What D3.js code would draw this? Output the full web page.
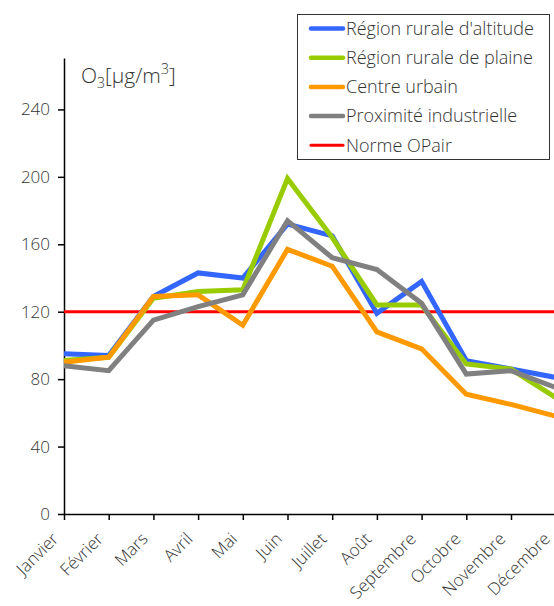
<!DOCTYPE html>
<html>
<head>
<meta charset="utf-8">
<script src="https://cdn.jsdelivr.net/npm/d3@7"></script>
<style>
  body { margin: 0; background: #fff; }
  svg { display: block; font-family: "Open Sans", sans-serif; }
  .axis text { font-size: 17px; fill: #333; font-weight: 300; }
  .axis path, .axis line { stroke: #000; stroke-width: 1.5px; }
</style>
</head>
<body>
<div id="chart"></div>
<script>
const months = ['Janvier', 'Février', 'Mars', 'Avril', 'Mai', 'Juin', 'Juillet', 'Août', 'Septembre', 'Octobre', 'Novembre', 'Décembre'];
const yTicks = [0, 40, 80, 120, 160, 200, 240];

const altitude = [95, 94, 129, 143, 140, 172, 165, 119, 138, 91, 86, 81];
const plaine = [91, 93, 128, 132, 133, 199, 164, 124, 124, 89, 86, 69];
const urbain = [90, 93, 129, 130, 112, 157, 147, 108, 98, 71, 65, 58];
const industriel = [88, 85, 115, 123, 130, 174, 152, 145, 125, 83, 85, 75];
const norme = 120;

const seriesNames = ['Région rurale d\'altitude', 'Région rurale de plaine', 'Centre urbain', 'Proximité industrielle', 'Norme OPair'];
const seriesColors = ['#3366ff', '#99cc00', '#ff9900', '#808080', '#ff0000'];

const W = 554, H = 606;
const margin = { top: 58, left: 64, bottom: 92 };
const plotRight = 64 + 11 * 44.7;

const svg = d3.select('#chart').append('svg')
    .attr('width', W)
    .attr('height', H);

const x = d3.scalePoint().domain(months).range([margin.left, plotRight]);
const y = d3.scaleLinear().domain([0, 270.5]).range([H - margin.bottom, margin.top]);

// y axis
const yAxis = svg.append('g')
    .attr('class', 'axis')
    .attr('transform', `translate(${margin.left}, 0)`)
    .call(d3.axisLeft(y).tickValues(yTicks).tickSize(6).tickSizeOuter(0).tickPadding(8))
    .attr('font-family', null)
    .attr('font-size', null);

// x axis
const xAxis = svg.append('g')
    .attr('class', 'axis')
    .attr('transform', `translate(0, ${y(0)})`)
    .call(d3.axisBottom(x).tickSize(6).tickSizeOuter(0))
    .attr('font-family', null)
    .attr('font-size', null);

xAxis.selectAll('text')
    .attr('y', 0)
    .attr('dy', 0)
    .attr('text-anchor', 'end')
    .attr('transform', 'translate(-5, 26) rotate(-45)');

// norme line
svg.append('line')
    .attr('x1', margin.left)
    .attr('x2', W)
    .attr('y1', y(norme))
    .attr('y2', y(norme))
    .attr('stroke', seriesColors[4])
    .attr('stroke-width', 3);

// series lines
const line = d3.line()
    .x((d, i) => x(months[i]))
    .y(d => y(d));

[altitude, plaine, urbain, industriel].forEach((s, k) => {
    svg.append('path')
        .datum(s)
        .attr('fill', 'none')
        .attr('stroke', seriesColors[k])
        .attr('stroke-width', 5)
        .attr('stroke-linejoin', 'miter')
        .attr('d', line);
});

// y label
const yLabel = svg.append('text')
    .attr('x', 81)
    .attr('y', 83)
    .attr('font-size', 21)
    .attr('font-weight', 300)
    .attr('fill', '#333');
yLabel.append('tspan').text('O');
yLabel.append('tspan').attr('font-size', 14).attr('dy', 5).text('3');
yLabel.append('tspan').attr('dy', -5).text('[µg/m');
yLabel.append('tspan').attr('font-size', 14).attr('dy', -9).text('3');
yLabel.append('tspan').attr('dy', 9).text(']');

// legend
const legend = svg.append('g');
legend.append('rect')
    .attr('x', 297.5)
    .attr('y', 14.5)
    .attr('width', 252)
    .attr('height', 145)
    .attr('fill', '#fff')
    .attr('stroke', '#333')
    .attr('stroke-width', 1);

const rows = legend.selectAll('.row')
    .data(seriesNames)
    .enter()
    .append('g')
    .attr('transform', (d, i) => `translate(0, ${28.5 + i * 29.2})`);

rows.append('line')
    .attr('x1', 311)
    .attr('x2', 343)
    .attr('stroke', (d, i) => seriesColors[i])
    .attr('stroke-width', (d, i) => i === 4 ? 3 : 4.5)
    .attr('stroke-linecap', 'round');

rows.append('text')
    .attr('x', 346)
    .attr('dy', '0.35em')
    .attr('font-size', 18)
    .attr('font-weight', 300)
    .attr('fill', '#333')
    .text(d => d);
</script>
</body>
</html>
